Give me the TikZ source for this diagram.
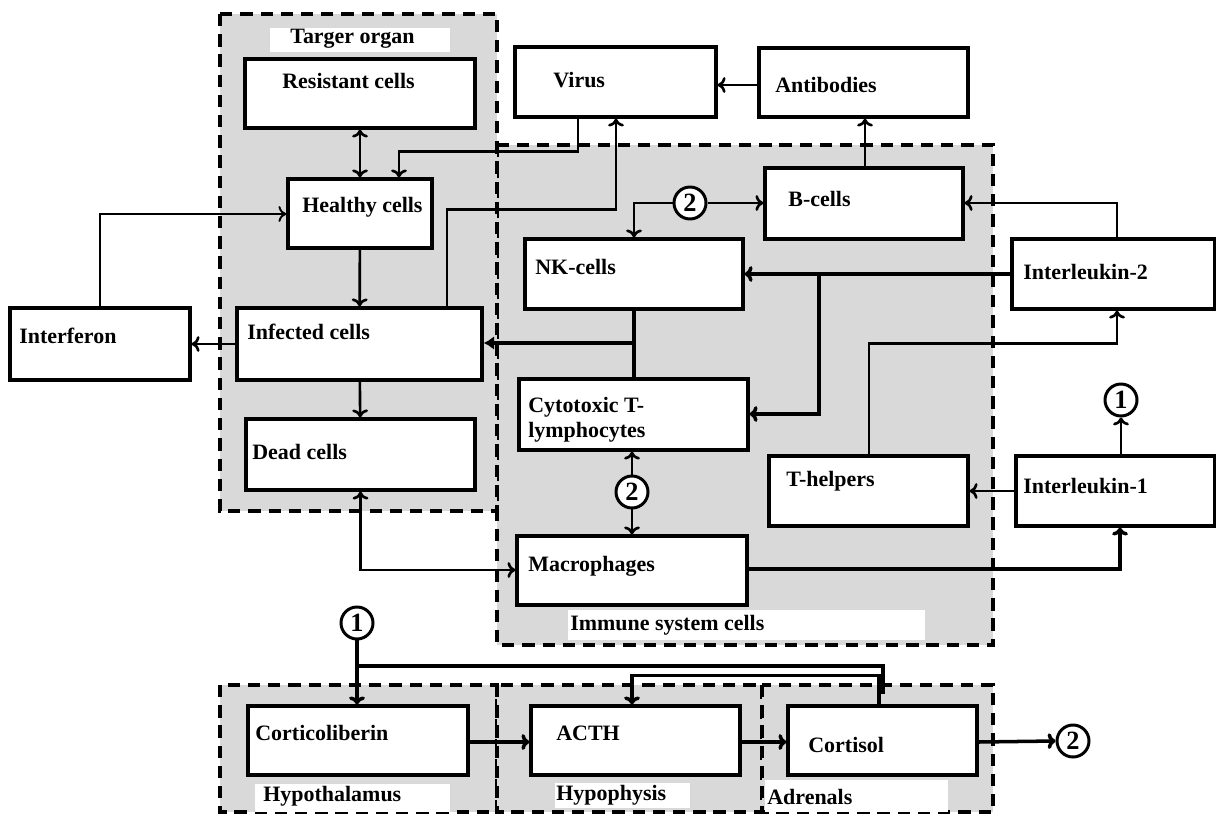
\documentclass[tikz,border=0pt]{standalone}
\usepackage{fontspec}
\setmainfont{Liberation Serif}
\usetikzlibrary{arrows.meta,fit}
\definecolor{areagray}{RGB}{217,217,217}
\tikzset{
  >={To[length=4.5pt,width=9pt]},
  box/.style={draw, line width=1.9pt, fill=white, inner sep=0pt},
  txt/.style={anchor=west, inner sep=0pt, align=left,
    font=\fontsize{12.5}{14}\selectfont\bfseries},
  area/.style={draw, fill=areagray, dash pattern=on 7pt off 4.5pt, line width=1.9pt},
  hub/.style={circle, draw, line width=1.7pt, fill=white, minimum size=0.64cm,
    inner sep=0pt, font=\fontsize{15}{15}\selectfont\bfseries},
  conn/.style={line width=1.5pt},
  thinconn/.style={line width=1.1pt},
  thickconn/.style={line width=2pt}
}
\begin{document}
\begin{tikzpicture}[x=0.02cm, y=-0.02cm]
  \useasboundingbox (0,0) rectangle (1216,814);
  % Areas
  \draw[area] (497,145) rectangle (993,645);
  \draw[area, line width=2.3pt] (220,14) rectangle (497,511);
  \draw[area] (220,685) rectangle (497,812);
  \draw[area] (497,685) rectangle (762,812);
  \draw[area] (762,685) rectangle (993,812);
  \fill[white] (270,28) rectangle (450,52);
  \fill[white] (568,610) rectangle (925,640);
  \fill[white] (255,784) rectangle (450,812);
  \fill[white] (555,783) rectangle (690,808);
  \fill[white] (765,780) rectangle (948,812);
  \node[txt] (torgan) at (290,39) {Targer organ};
  \node[txt] (immune) at (570,625) {Immune system cells};
  \node[txt] (hypoth) at (263,796) {Hypothalamus};
  \node[txt] (hypoph) at (556,795) {Hypophysis};
  \node[txt] (adren) at (767,797) {Adrenals};

  % Target organ
  \node[box, fit={(245,59) (475,128)}] (res) {};
  \node[box, fit={(288,179) (432,248)}] (heal) {};
  \node[box, fit={(237,308) (482,380)}] (inf) {};
  \node[box, fit={(246,419) (475,490)}] (dead) {};
  \node[box, fit={(10,308) (190,380)}] (ifn) {};
  \node[txt] (resT) at (282,81) {Resistant cells};
  \node[txt] (healT) at (302,207) {Healthy cells};
  \node[txt] (infT) at (247,332) {Infected cells};
  \node[txt] (deadT) at (252,452) {Dead cells};
  \node[txt] (ifnT) at (19,336) {Interferon};

  % Virus and antibodies
  \node[box, fit={(515,47) (716,117)}] (vir) {};
  \node[box, fit={(759,48) (968,117)}] (ab) {};
  \node[txt] (virT) at (553,80) {Virus};
  \node[txt] (abT) at (775,85) {Antibodies};

  % Immune system cells
  \node[box, fit={(765,168) (963,239)}] (bc) {};
  \node[box, fit={(525,239) (743,309)}] (nk) {};
  \node[box, fit={(519,379) (748,450)}] (cyt) {};
  \node[box, fit={(769,456) (968,526)}] (th) {};
  \node[box, fit={(517,536) (747,605)}] (mac) {};
  \node[box, fit={(1012,239) (1215,309)}] (il2) {};
  \node[box, fit={(1016,456) (1215,526)}] (il1) {};
  \node[txt] (bcT) at (788,199) {B-cells};
  \node[txt] (nkT) at (535,267) {NK-cells};
  \node[txt] (cytT) at (528,420) {Cytotoxic T-\\lymphocytes};
  \node[txt] (thT) at (786,481) {T-helpers};
  \node[txt] (macT) at (528,566) {Macrophages};
  \node[txt] (il2T) at (1023,272) {Interleukin-2};
  \node[txt] (il1T) at (1023,486) {Interleukin-1};

  % Hormones
  \node[box, fit={(248,706) (468,775)}] (cor) {};
  \node[box, fit={(531,706) (740,775)}] (acth) {};
  \node[box, fit={(788,706) (977,775)}] (cts) {};
  \node[txt] (corT) at (255,733) {Corticoliberin};
  \node[txt] (acthT) at (556,733) {ACTH};
  \node[txt] (ctsT) at (808,745) {Cortisol};

  % Links
  \node[hub] (h2a) at (690,203) {2};
  \node[hub] (h2b) at (632,492) {2};
  \node[hub] (h2c) at (1073,741) {2};
  \node[hub] (h1r) at (1121,400) {1};
  \node[hub] (h1l) at (357,623) {1};
  \coordinate (il2split) at (819,274);
  \coordinate (nksplit) at (634,343);
  \coordinate (h1split) at (357,666);
  \coordinate (fbend) at (883,694);

  % Connectors in target organ
  \draw[conn,<->] (res) -- (heal);
  \draw[conn,->] (heal) -- (inf);
  \draw[conn,->] (inf) -- (dead);
  \draw[conn,->] (vir.south -| 578,0) -- ++(0,33) -| (heal.north -| 399,0);
  \draw[conn,->] (inf.north -| 447,0) -- ++(0,-97) -| (vir.south -| 616,0);
  \draw[thinconn,->] (ifn.north) |- (heal.west |- 0,214);
  \draw[conn,->] (inf.west |- 0,344) -- (ifn.east |- 0,344);
  \draw[conn,<->] (dead.south) |- (mac.west |- 0,570);
  \draw[conn,->] (ab.west |- 0,85) -- (vir.east |- 0,85);
  \draw[conn,->] (bc.north -| 865,0) -- (ab.south -| 865,0);

  % Connectors in immune system
  \draw[conn,->] (h2a.west) -| (nk.north -| 634,0);
  \draw[conn,->] (h2a.east) -- (bc.west |- h2a);
  \draw[conn,->] (il2.north -| 1117,0) |- (bc.east |- 0,203);
  \draw[thickconn,->] (il2.west |- 0,274) -- (nk.east |- 0,274);
  \draw[thickconn,->] (il2split) |- (cyt.east |- 0,414);
  \draw[thickconn] (nk.south -| 634,0) -- (cyt.north -| 634,0);
  \draw[thickconn,-{Latex[length=6pt,width=8pt]}] (nksplit) -- (inf.east |- nksplit);
  \draw[conn,->] (h2b.north) -- (cyt.south -| h2b);
  \draw[conn,->] (h2b.south) -- (mac.north -| h2b);
  \draw[conn,->] (th.north -| 869,0) -- ++(0,-111) -| (il2.south -| 1117,0);
  \draw[conn,->] (il1.west |- 0,491) -- (th.east |- 0,491);
  \draw[conn,->] (il1.north -| h1r) -- (h1r.south);
  \draw[thickconn,->] (mac.east |- 0,569) -| (il1.south -| 1120,0);

  % Hormone axis
  \draw[thickconn,->] (h1l.south) -- (cor.north -| h1l);
  \draw[thickconn] (h1split) -| (fbend);
  \draw[thickconn,->] (cts.north -| 879,0) -- ++(0,-29) -| (acth.north -| 632,0);
  \draw[thickconn,->] (cor.east |- 0,742) -- (acth.west |- 0,742);
  \draw[thickconn,->] (acth.east |- 0,742) -- (cts.west |- 0,742);
  \draw[thickconn,->] (cts.east |- 0,742) -- (h2c.west);
\end{tikzpicture}
\end{document}
